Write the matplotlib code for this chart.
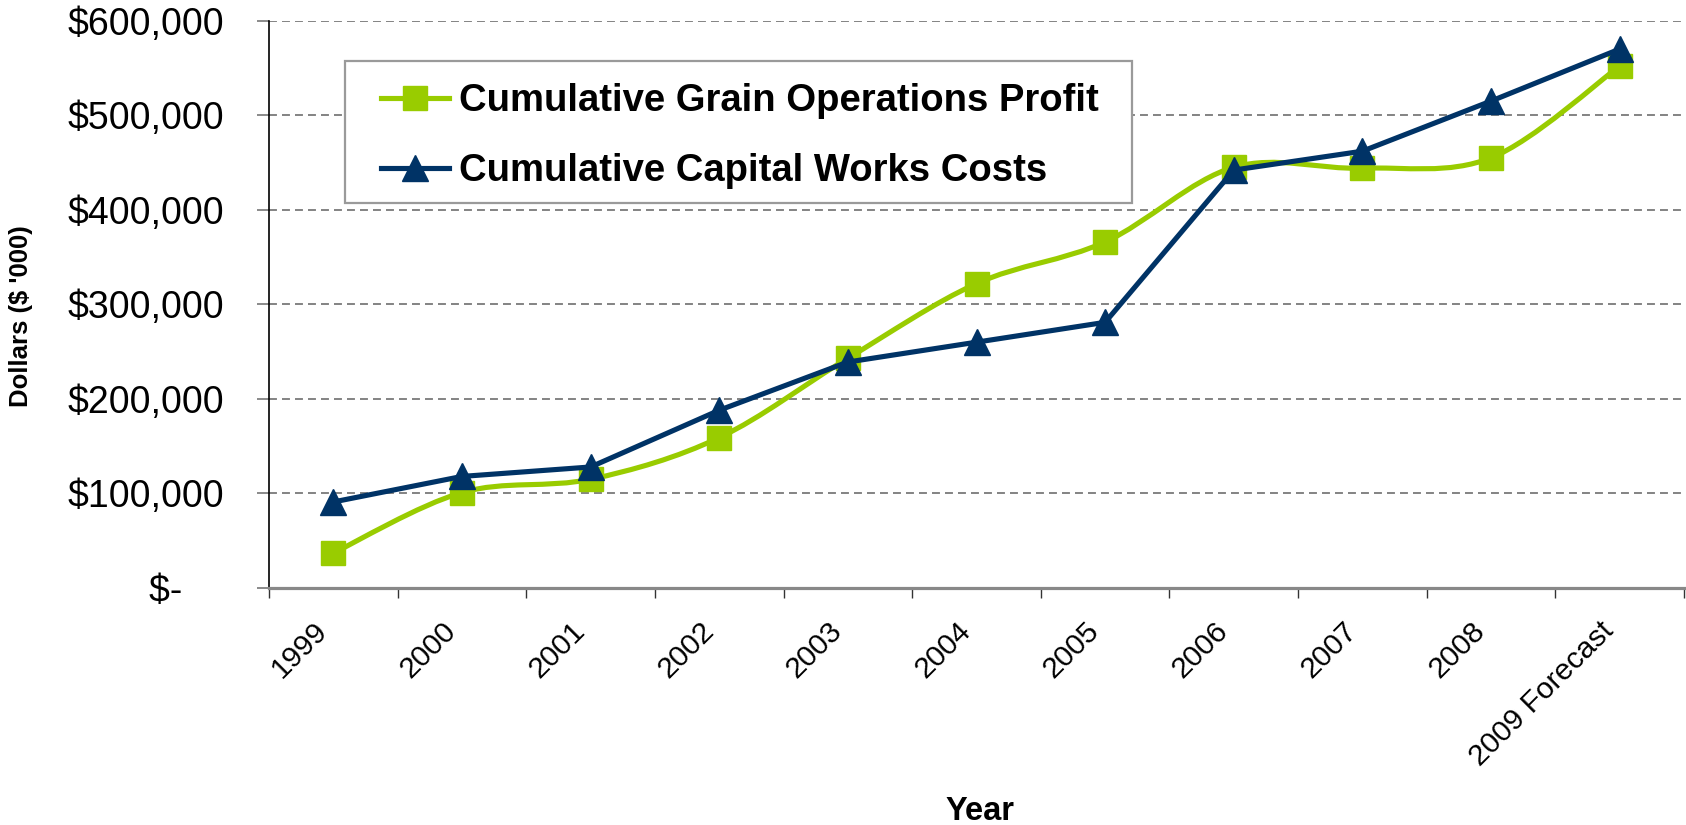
import matplotlib
matplotlib.use("Agg")
import matplotlib.pyplot as plt
from matplotlib.path import Path
from matplotlib.patches import PathPatch, Rectangle
from matplotlib.lines import Line2D
from matplotlib.ticker import FixedLocator, FuncFormatter
from matplotlib.transforms import ScaledTranslation
import numpy as np

plt.rcParams['font.family'] = ['Liberation Sans', 'DejaVu Sans']

years = ["1999", "2000", "2001", "2002", "2003", "2004", "2005", "2006", "2007", "2008", "2009 Forecast"]
grain_profit = [37000, 101000, 115000, 159000, 243000, 322000, 366000, 445000, 444000, 455000, 552000]
capital_costs = [91000, 118000, 128000, 188000, 239000, 260000, 281000, 442000, 462000, 515000, 570000]
yticks = [0, 100000, 200000, 300000, 400000, 500000, 600000]
series_names = ["Cumulative Grain Operations Profit", "Cumulative Capital Works Costs"]

GREEN = "#99CC00"
BLUE = "#003366"

W, H = 1686, 825
fig = plt.figure(figsize=(W / 100, H / 100), dpi=100)

def fx(px):
    return px / W

def fy(py):
    return 1 - py / H

ax_l, ax_r, ax_t, ax_b = 269, 1684, 20.7, 588
ax = fig.add_axes([fx(ax_l), fy(ax_b), fx(ax_r - ax_l), (ax_b - ax_t) / H])

x = np.arange(len(years))

# smoothed green line (Catmull-Rom as cubic Bezier path)
pts = np.column_stack([x, grain_profit]).astype(float)
ext = np.vstack([pts[0], pts, pts[-1]])
verts = [tuple(pts[0])]
codes = [Path.MOVETO]
for i in range(len(pts) - 1):
    p0, p1, p2, p3 = ext[i], ext[i + 1], ext[i + 2], ext[i + 3]
    c1 = p1 + (p2 - p0) / 6.0
    c2 = p2 - (p3 - p1) / 6.0
    verts += [tuple(c1), tuple(c2), tuple(p2)]
    codes += [Path.CURVE4] * 3
ax.add_patch(PathPatch(Path(verts, codes), fill=False, edgecolor=GREEN, lw=3.7,
                       zorder=3, capstyle='round', joinstyle='round'))
ax.plot(x, grain_profit, linestyle='none', marker='s', markersize=17,
        color=GREEN, zorder=4)

ax.plot(x, capital_costs, color=BLUE, lw=3.7, marker='^', markersize=19,
        zorder=5, solid_joinstyle='round')

ax.set_xlim(-0.5, len(years) - 0.5)
ax.set_ylim(0, 600000)

# y axis
ax.yaxis.set_major_locator(FixedLocator(yticks))
ax.yaxis.set_major_formatter(FuncFormatter(lambda v, p: "$-    " if v == 0 else "${:,.0f}".format(v)))
ax.tick_params(axis='y', labelsize=27, length=8.6, width=1.2, pad=24, color='#777777')
ax.grid(axis='y', linestyle=(0, (4.4, 2.8)), color='#7a7a7a', lw=1.3)
ax.set_axisbelow(True)

# x axis: ticks between categories, labels at centers
ax.set_xticks(np.arange(-0.5, len(years), 1.0))
ax.set_xticklabels([])
ax.set_xticks(x, minor=True)
ax.set_xticklabels(years, minor=True, rotation=45, ha='right', va='center',
                   rotation_mode='anchor', fontsize=21.5)
ax.tick_params(axis='x', which='major', length=7.5, width=1.0, color='#333333')
ax.tick_params(axis='x', which='minor', length=0, pad=28)
offset = ScaledTranslation(-10 / 100, 0, fig.dpi_scale_trans)
for lbl in ax.xaxis.get_minorticklabels():
    lbl.set_transform(lbl.get_transform() + offset)

for s in ['top', 'right']:
    ax.spines[s].set_visible(False)
ax.spines['left'].set_color('black')
ax.spines['left'].set_linewidth(1.2)
ax.spines['bottom'].set_color('#888888')
ax.spines['bottom'].set_linewidth(2.3)

fig.text(fx(21.5), fy(316), "Dollars ($ '000)", rotation=90, ha='center', va='center',
         fontsize=18.5, fontweight='bold')
fig.text(fx(980), fy(811), "Year", ha='center', va='center', fontsize=23.5, fontweight='bold')

# legend frame
fig.patches.append(Rectangle((fx(345), fy(203)), fx(1132 - 345), (203 - 61) / H,
                             transform=fig.transFigure, facecolor='white',
                             edgecolor='#9a9a9a', lw=1.6, zorder=6))

handles = [
    Line2D([], [], color=GREEN, lw=3.7, marker='s', markersize=17),
    Line2D([], [], color=BLUE, lw=3.7, marker='^', markersize=19),
]
leg = fig.legend(handles, series_names, loc='upper left',
                 bbox_to_anchor=(fx(381), fy(83)), borderaxespad=0, borderpad=0,
                 prop={'weight': 'bold', 'size': 27.5}, handlelength=1.79,
                 labelspacing=0.89, handletextpad=0.26, frameon=False)
leg.set_zorder(7)

fig.savefig("out.png", dpi=100)
